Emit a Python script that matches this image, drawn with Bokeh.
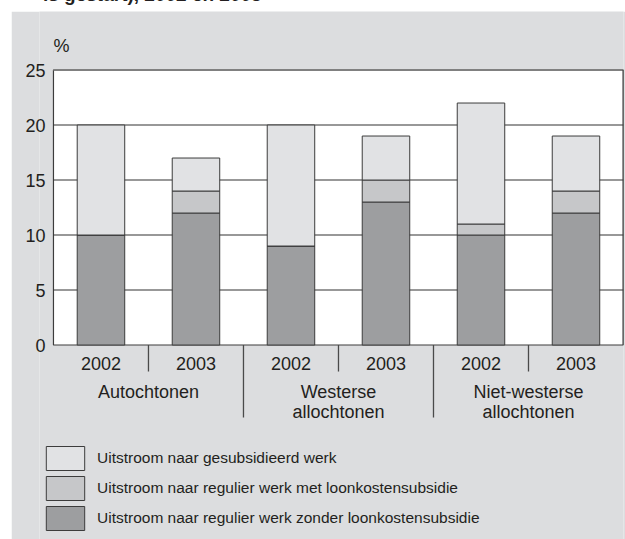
from bokeh.plotting import figure
from bokeh.layouts import column
from bokeh.models import Range1d, FixedTicker, Legend, LegendItem, ColumnDataSource, Div
from bokeh.core.properties import value
from bokeh.embed import file_html
from bokeh.resources import INLINE

# ---- data ----
title_text = "is gestart), 2002 en 2003"
groups = ["Autochtonen", "Westerse\nallochtonen", "Niet-westerse\nallochtonen"]
years = ["2002", "2003"]
zonder = [10, 12, 9, 13, 10, 12]   # regulier werk zonder loonkostensubsidie
met = [0, 2, 0, 2, 1, 2]           # regulier werk met loonkostensubsidie
gesub = [10, 3, 11, 4, 11, 5]      # gesubsidieerd werk
y_ticks = [0, 5, 10, 15, 20, 25]
grid_ticks = [5, 10, 15, 20]
series_labels = [
    "Uitstroom naar regulier werk zonder loonkostensubsidie",
    "Uitstroom naar regulier werk met loonkostensubsidie",
    "Uitstroom naar gesubsidieerd werk",
]
y_unit = "%"

PANEL = "#dcdddf"
COLORS = ["#9d9ea0", "#c6c7c9", "#e1e2e4"]
TXT = "#231f20"
FONT = "Liberation Sans"

n_bars = len(groups) * len(years)
bar_x = [i + 0.5 for i in range(n_bars)]
bar_year = [years[i % len(years)] for i in range(n_bars)]

src = ColumnDataSource(dict(x=bar_x, zonder=zonder, met=met, gesub=gesub))

p = figure(width=614, height=528, output_backend="svg", toolbar_location=None,
           x_range=Range1d(-0.147, n_bars), y_range=Range1d(-17.68, 30.32),
           x_axis_location=None, min_border_left=28, min_border_right=2,
           min_border_top=0, min_border_bottom=0)
p.margin = (0, 0, 0, 11)
p.border_fill_color = PANEL
p.background_fill_color = PANEL
p.outline_line_color = None
p.xgrid.visible = False
p.ygrid.visible = False

# plot area
p.quad(left=0, right=n_bars, bottom=y_ticks[0], top=y_ticks[-1], fill_color="white",
       line_color="#3c3c3c", line_width=1.2, level="image")
# horizontal grid lines (inside the plot area only)
p.segment(x0=[0] * len(grid_ticks), x1=[n_bars] * len(grid_ticks), y0=grid_ticks, y1=grid_ticks,
          line_color="#333333", line_width=1.2)
p.segment(x0=0, x1=n_bars, y0=y_ticks[-1], y1=y_ticks[-1], line_color="#808080", line_width=1.8)
p.segment(x0=n_bars, x1=n_bars, y0=0, y1=y_ticks[-1], line_color="#3c3c3c", line_width=2)

ax = p.yaxis[0]
ax.ticker = FixedTicker(ticks=y_ticks)
ax.axis_line_color = None
ax.major_tick_line_color = None
ax.minor_tick_line_color = None
ax.major_tick_in = 0
ax.major_tick_out = 0
ax.minor_tick_in = 0
ax.minor_tick_out = 0
ax.major_label_standoff = -6
ax.major_label_text_font_size = "18px"
ax.major_label_text_font = FONT
ax.major_label_text_color = TXT

rs = p.vbar_stack(["zonder", "met", "gesub"], x="x", width=0.5, source=src,
                  fill_color=COLORS, line_color="#3c3c3c", line_width=1)

# year labels
p.text(x=bar_x, y=[0] * n_bars, text=bar_year, text_align="center", text_baseline="middle",
       y_offset=18, text_font=value(FONT), text_font_size="18px", text_color=TXT)
# group labels
gx = [len(years) * g + len(years) / 2 for g in range(len(groups))]
p.text(x=gx, y=[0] * len(groups), text=groups, text_align="center", text_baseline="top",
       y_offset=37, text_line_height=1.0, text_font=value(FONT), text_font_size="18px",
       text_color=TXT)
# separators
sep_short = [len(years) * g + 1 for g in range(len(groups))]
sep_long = [len(years) * g for g in range(1, len(groups))]
p.segment(x0=sep_short, x1=sep_short, y0=0, y1=-2.41, line_color="#4a4a4a", line_width=1.3)
p.segment(x0=sep_long, x1=sep_long, y0=0, y1=-6.59, line_color="#4a4a4a", line_width=1.3)

# unit label
p.text(x=[0.084], y=[27.2], text=[y_unit], text_align="center", text_baseline="middle",
       text_font=value(FONT), text_font_size="18px", text_color=TXT)

legend = Legend(items=[LegendItem(label=series_labels[2], renderers=[rs[2]]),
                       LegendItem(label=series_labels[1], renderers=[rs[1]]),
                       LegendItem(label=series_labels[0], renderers=[rs[0]])],
                location=(2, 6), glyph_width=48, glyph_height=30, label_height=30,
                spacing=0, padding=0, margin=0, label_standoff=8,
                border_line_color=None, background_fill_alpha=0,
                label_text_font=FONT, label_text_font_size="15.5px", label_text_color=TXT)
p.add_layout(legend)

title = Div(text=('<div style="position:relative; top:-15px; left:43px; white-space:nowrap; '
                  'font-family:\'Liberation Sans\'; font-weight:bold; font-size:19px; '
                  'line-height:19px; color:#231f20;">' + title_text + '</div>'),
            width=625, height=11, margin=(0, 0, 0, 0), styles={"overflow": "hidden"})

layout = column(title, p, spacing=0, margin=(0, 0, 0, 0))
open("out.html", "w").write(file_html(layout, INLINE))
